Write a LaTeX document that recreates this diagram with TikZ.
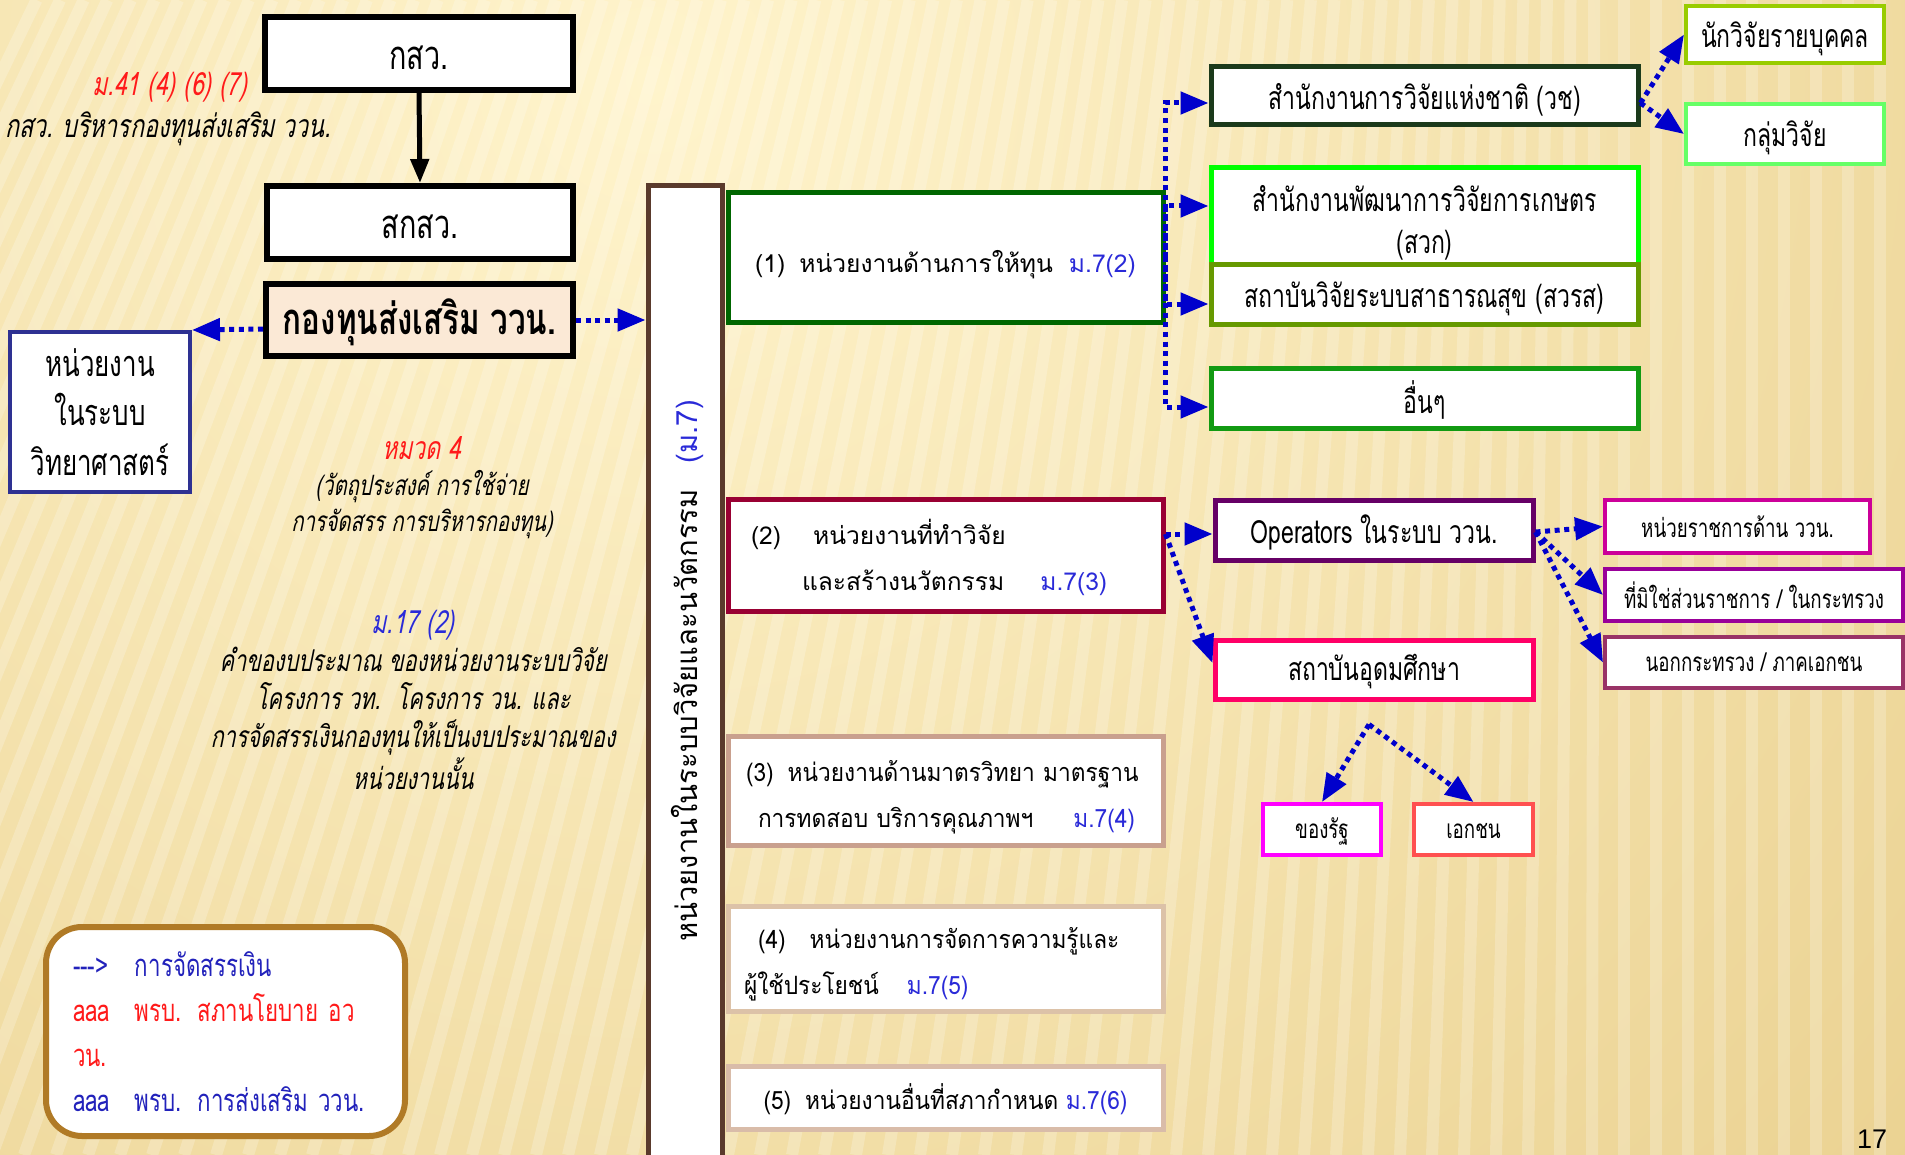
\documentclass[tikz,border=0pt]{standalone}
\usepackage{fontspec}
\setmainfont{Loma}[Script=Thai]
\newfontfamily\thn{Loma}[Script=Thai,FakeStretch=0.9]
\newfontfamily\thc{Loma}[Script=Thai,FakeStretch=0.72]
\newfontfamily\thci{Loma}[Script=Thai,FakeStretch=0.72,FakeSlant=0.2]
\newfontfamily\numf{Liberation Sans}
\usetikzlibrary{arrows.meta,calc}
\definecolor{cblue}{HTML}{0000CC}
\definecolor{mblue}{HTML}{2A2AD8}
\definecolor{tred}{HTML}{FF1A1A}
\definecolor{lblue}{HTML}{2222BB}
\definecolor{fundfill}{HTML}{FBE9D6}
\definecolor{scib}{HTML}{2E3192}
\definecolor{barb}{HTML}{5A3A2C}
\definecolor{legb}{HTML}{B07A26}
\definecolor{cA}{HTML}{006600}
\definecolor{cB}{HTML}{990033}
\definecolor{cC}{HTML}{C9A08E}
\definecolor{cD}{HTML}{DCC2A8}
\definecolor{cE}{HTML}{D9BCA9}
\definecolor{cvc}{HTML}{1B3A1B}
\definecolor{csk}{HTML}{00FF00}
\definecolor{csr}{HTML}{669900}
\definecolor{coth}{HTML}{129A12}
\definecolor{cind}{HTML}{99CC00}
\definecolor{cgrp}{HTML}{66FF66}
\definecolor{cop}{HTML}{660066}
\definecolor{cuni}{HTML}{FF0066}
\definecolor{cgov}{HTML}{CC0099}
\definecolor{cng}{HTML}{990099}
\definecolor{cpr}{HTML}{993366}
\definecolor{cst}{HTML}{FF00FF}
\definecolor{cpu}{HTML}{FF5050}
\definecolor{bgI}{HTML}{FFF4CC}
\definecolor{bgO}{HTML}{DDBB6A}
\newcommand{\dn}[2][2pt]{\raisebox{-#1}[\height][\depth]{#2}}
\tikzset{
  box/.style={draw, fill=white, line width=2.5pt, inner sep=0pt, align=center, text=black},
  tbox/.style={box, line width=3pt, font=\thc\fontsize{20}{24}\selectfont},
  conn/.style={draw=cblue, line width=2.5pt, dash pattern=on 2.5pt off 2.3pt, -{Triangle[length=14pt,width=11pt]}},
  note/.style={inner sep=0pt, align=center, font=\thci\fontsize{16}{19}\selectfont},
  ubox/.style={box, font=\fontsize{12.3}{23}\selectfont},
  nbox/.style={box, font=\thn\fontsize{12.6}{23}\selectfont},
  cbox/.style={box, font=\thc\fontsize{16}{21}\selectfont},
  sbox/.style={box, line width=2pt, font=\thc\fontsize{13}{16}\selectfont},
}
\begin{document}
\begin{tikzpicture}[x=0.5pt,y=-0.5pt]
\useasboundingbox (0,0) rectangle (1905,1155);
% background
\begin{scope}
\clip (0,0) rectangle (1905,1155);
\shade[inner color=bgI, outer color=bgO] (650,80) circle (2800);
\foreach \k in {0,...,80} {
  \pgfmathsetmacro{\xb}{-520+\k*32}
  \pgfmathsetmacro{\xt}{\xb+420*max(0,1-\xb/1600)}
  \draw[white, opacity=0.22, line width=6pt] (\xt,0) -- (\xb,1155);
}
\end{scope}

% left column
\node[tbox, minimum width=154pt, minimum height=36.5pt] (ksw) at (419,53.5) {\dn{กสว.}};
\node[tbox, minimum width=153pt, minimum height=36.5pt] (sksw) at (420,222.5) {\dn{สกสว.}};
\node[tbox, fill=fundfill, minimum width=153.5pt, minimum height=36pt, font=\thc\bfseries\fontsize{21.8}{24}\selectfont] (fund) at (419.5,320) {\dn[1pt]{กองทุนส่งเสริม ววน.}};
\node[box, draw=scib, line width=2pt, minimum width=90pt, minimum height=80pt, font=\thc\fontsize{18}{24.75}\selectfont] (sci) at (100,412) {หน่วยงาน\\ในระบบ\\วิทยาศาสตร์};

\node[note, text=tred] (m41) at (170,87) {ม.41 (4) (6) (7)};
\node[note] (kswnote) at (168,129) {กสว. บริหารกองทุนส่งเสริม ววน.};
\node[note, font=\thci\fontsize{14}{18}\selectfont] (h4) at (422,488) {\textcolor{tred}{\fontsize{16}{18}\selectfont หมวด 4}\\(วัตถุประสงค์ การใช้จ่าย\\การจัดสรร การบริหารกองทุน)};
\node[note, font=\thci\fontsize{15}{19}\selectfont] (m17) at (413,700) {\textcolor{mblue}{\fontsize{16}{19}\selectfont ม.17 (2)}\\คำของบประมาณ ของหน่วยงานระบบวิจัย\\โครงการ วท.\hspace{8pt}โครงการ วน. และ\\การจัดสรรเงินกองทุนให้เป็นงบประมาณของ\\หน่วยงานนั้น};

\node[draw=legb, line width=3pt, fill=white, rounded corners=18pt, minimum width=179.5pt, minimum height=104.5pt, inner xsep=13.5pt, inner ysep=0pt, text width=152.5pt, align=left, font=\thc\fontsize{15.5}{22.4}\selectfont] (leg) at (225.5,1031.5) {\mbox{\textcolor{lblue}{\makebox[31pt][l]{-{}-{}->}การจัดสรรเงิน}}\\
\mbox{\textcolor{tred}{\makebox[31pt][l]{aaa}พรบ. สภานโยบาย อว}}\\
\mbox{\textcolor{tred}{วน.}}\\
\mbox{\textcolor{lblue}{\makebox[31pt][l]{aaa}พรบ. การส่งเสริม ววน.}}};

% vertical bar
\node[box, draw=barb, minimum width=37pt, minimum height=489.5pt] (bar) at (685,675.5) {};
\node[rotate=90, inner sep=0pt, font=\fontsize{14.6}{18}\selectfont] (bart) at (687,671) {หน่วยงานในระบบวิจัยและนวัตกรรม\hspace{13pt}\textcolor{mblue}{(ม.7)}};

% second column
\node[ubox, draw=cA, minimum width=217.5pt, minimum height=64.5pt] (b1) at (945.5,257.5) {\dn[3.5pt]{(1)\hspace{7pt}หน่วยงานด้านการให้ทุน\hspace{8pt}\textcolor{mblue}{ม.7(2)}}};
\node[ubox, draw=cB, minimum width=217.5pt, minimum height=56pt, inner xsep=11.5pt, text width=194.5pt, align=left] (b2) at (945.5,555) {\dn[1pt]{(2)\hspace{16pt}หน่วยงานที่ทำวิจัย}\\\dn[1pt]{\hspace*{25.5pt}และสร้างนวัตกรรม\hspace{18pt}\textcolor{mblue}{ม.7(3)}}};
\node[nbox, draw=cC, minimum width=217.5pt, minimum height=54.5pt, inner xsep=9pt, text width=199.5pt, align=left] (b3) at (945.5,790.5) {\dn[3.5pt]{(3)\hspace{7pt}หน่วยงานด้านมาตรวิทยา มาตรฐาน}\\\dn[3.5pt]{\hspace*{6pt}การทดสอบ บริการคุณภาพฯ\hspace{20pt}\textcolor{mblue}{ม.7(4)}}};
\node[nbox, draw=cD, minimum width=217.5pt, minimum height=52.5pt, inner xsep=8pt, text width=201.5pt, align=left] (b4) at (945.5,958.5) {\dn[3pt]{\hspace*{7pt}(4)\hspace{12pt}หน่วยงานการจัดการความรู้และ}\\\dn[3pt]{ผู้ใช้ประโยชน์\hspace{14pt}\textcolor{mblue}{ม.7(5)}}};
\node[nbox, draw=cE, minimum width=217.5pt, minimum height=31.5pt] (b5) at (945.5,1097.5) {\dn[1pt]{(5)\hspace{7pt}หน่วยงานอื่นที่สภากำหนด \textcolor{mblue}{ม.7(6)}}};

% third column
\node[cbox, draw=cvc, minimum width=213.5pt, minimum height=29pt] (vc) at (1424.5,96) {\dn{สำนักงานการวิจัยแห่งชาติ (วช)}};
\node[cbox, draw=csk, minimum width=213.5pt, minimum height=48.5pt] (sk) at (1424.5,216.5) {\dn[3pt]{สำนักงานพัฒนาการวิจัยการเกษตร}\\\dn[3pt]{(สวก)}};
\node[cbox, draw=csr, minimum width=213.5pt, minimum height=29.5pt] (sr) at (1424.5,294.5) {\dn{สถาบันวิจัยระบบสาธารณสุข (สวรส)}};
\node[cbox, draw=coth, minimum width=213.5pt, minimum height=30pt] (oth) at (1424.5,398) {\dn[1pt]{อื่นๆ}};

\node[cbox, draw=cind, line width=2pt, minimum width=99pt, minimum height=28.5pt] (ind) at (1785,34.5) {\dn{นักวิจัยรายบุคคล}};
\node[cbox, draw=cgrp, line width=2pt, minimum width=99pt, minimum height=30pt] (grp) at (1785,134) {\dn{กลุ่มวิจัย}};

\node[cbox, draw=cop, minimum width=159pt, minimum height=30pt] (op) at (1374,530) {\dn[1pt]{Operators ในระบบ ววน.}};
\node[cbox, draw=cuni, minimum width=159pt, minimum height=29.5pt] (uni) at (1374,669.5) {\dn[1pt]{สถาบันอุดมศึกษา}};

\node[sbox, draw=cgov, minimum width=132.5pt, minimum height=26.5pt] (gov) at (1737.5,526.5) {หน่วยราชการด้าน ววน.};
\node[sbox, draw=cng, minimum width=149pt, minimum height=26pt] (nongov) at (1754,595) {ที่มิใช่ส่วนราชการ / ในกระทรวง};
\node[sbox, draw=cpr, minimum width=149pt, minimum height=25.5pt] (priv) at (1754,662.5) {นอกกระทรวง / ภาคเอกชน};

\node[sbox, draw=cst, minimum width=59pt, minimum height=25.5pt] (stateu) at (1322,829.5) {\dn[1pt]{ของรัฐ}};
\node[sbox, draw=cpu, minimum width=59.5pt, minimum height=25.5pt] (privu) at (1473.5,829.5) {\dn[1pt]{เอกชน}};

\node[anchor=north, inner sep=0pt, font=\numf\fontsize{13.5}{16}\selectfont] (pg) at (1872,1130) {17};

% connectors
\draw[line width=2.5pt, -{Triangle[length=12pt,width=9pt]}] (ksw.south) -- (sksw.north);
\draw[conn] ([yshift=-4.5pt]fund.west) -- (sci.north east);
\draw[conn] (fund.east) -- (fund.east -| bar.west);

\draw[conn] (b1.east) |- ([yshift=-3.5pt]vc.west);
\draw[conn, dash phase=1.2pt] (b1.east) |- ([yshift=5.25pt]sk.west);
\draw[conn] (b1.east) |- ([yshift=-4.75pt]sr.west);
\draw[conn, dash phase=1.2pt] (b1.east) |- ([yshift=-4.5pt]oth.west);

\coordinate (vco) at ([yshift=-3.5pt]vc.east);
\draw[conn] (vco) -- (ind.west);
\draw[conn] (vco) -- (grp.west);

\coordinate (b2o) at ([yshift=10.5pt]b2.east);
\draw[conn] (b2o) -- (b2o -| op.west);
\draw[conn] (b2o) -- ([yshift=3.25pt]uni.west);

\coordinate (opo) at ([yshift=-1pt]op.east);
\draw[conn] (opo) -- (gov.west);
\draw[conn] (opo) -- (nongov.west);
\draw[conn] (opo) -- (priv.west);

\coordinate (br) at ([xshift=-2.5pt,yshift=-11.5pt]uni.south);
\draw[conn] (br) -- (stateu.north);
\draw[conn] (br) -- (privu.north);
\end{tikzpicture}
\end{document}
